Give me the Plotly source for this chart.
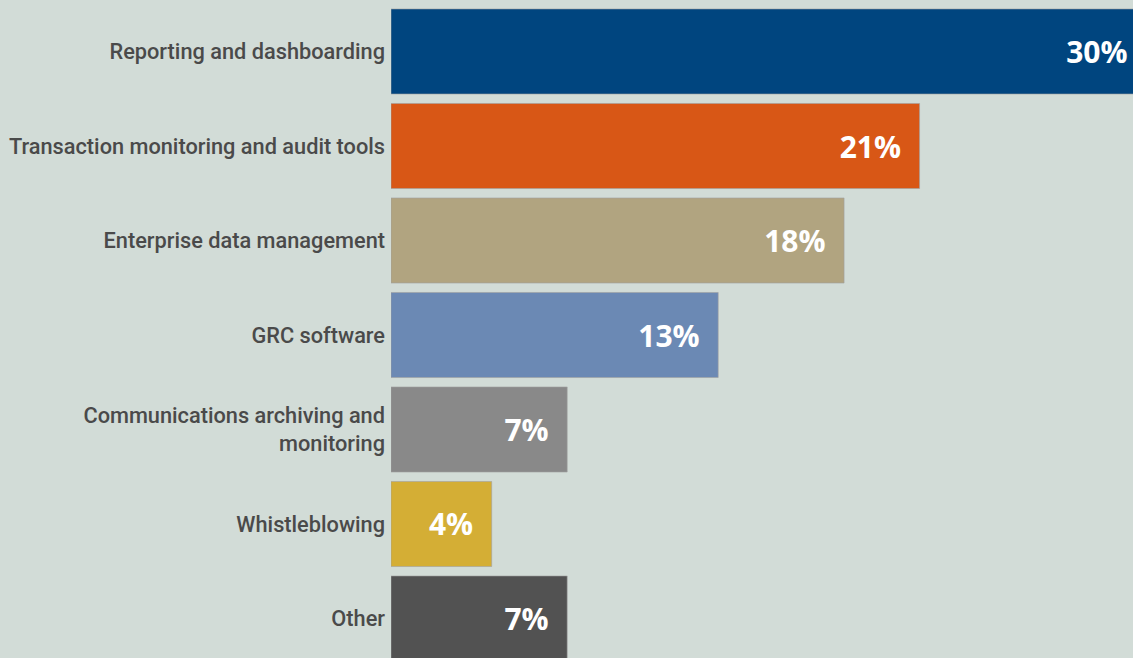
import plotly.graph_objects as go

# Share of respondents by technology category
categories = [
    "Reporting and dashboarding",
    "Transaction monitoring and audit tools",
    "Enterprise data management",
    "GRC software",
    "Communications archiving and<br>monitoring",
    "Whistleblowing",
    "Other",
]
values = [30, 21, 18, 13, 7, 4, 7]
bar_colors = ["#00457f", "#d85716", "#b1a480", "#6b89b4", "#898989", "#d4ae35", "#525252"]

BG = "#d2dcd7"
PAD = "\u00a0\u00a0"  # keeps the value label off the bar end

fig = go.Figure(
    go.Bar(
        x=values,
        y=categories,
        orientation="h",
        marker=dict(color=bar_colors, line=dict(color="rgba(160,160,160,0.6)", width=1)),
        text=[f"{v}%{PAD}" for v in values],
        textposition="inside",
        insidetextanchor="end",
        textangle=0,
        insidetextfont=dict(family="Open Sans", size=30, color="white", weight="bold"),
        hoverinfo="skip",
    )
)

fig.update_layout(
    width=1133, height=658,
    margin=dict(l=391, r=0, t=0, b=0),
    paper_bgcolor=BG, plot_bgcolor=BG,
    bargap=0.1,
    showlegend=False,
    uniformtext=dict(minsize=30, mode="show"),
    xaxis=dict(range=[0, 29.48], visible=False, fixedrange=True),
    yaxis=dict(
        range=[6.418, -0.545],
        showgrid=False, zeroline=False, showline=False, ticks="",
        ticklabelstandoff=5,
        tickfont=dict(family="Roboto", size=21.75, color="#4a4a4a", weight=500),
        fixedrange=True,
    ),
)

fig.write_html("out.html", config={"displayModeBar": False})
